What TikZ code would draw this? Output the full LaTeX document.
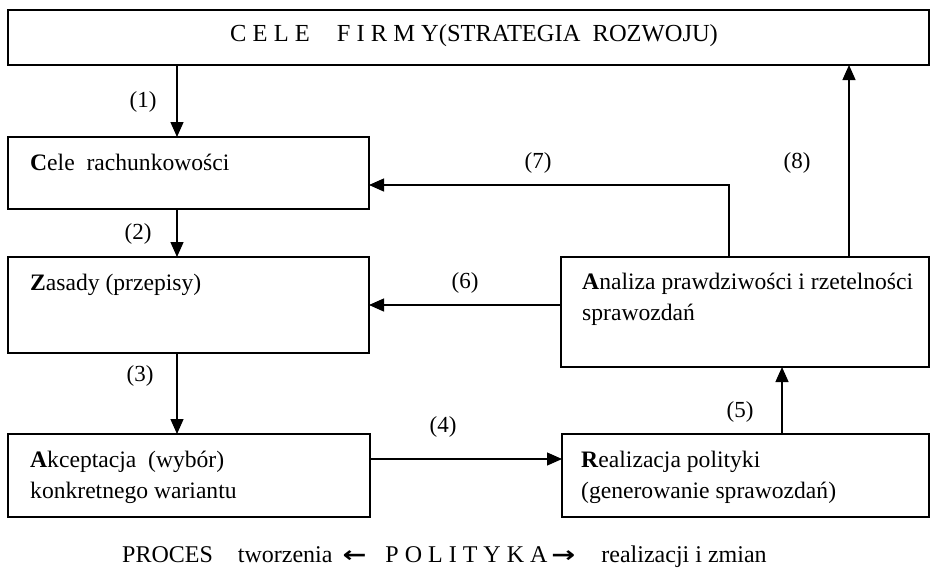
\documentclass[tikz,border=0pt]{standalone}
\usepackage{fontspec}
\setmainfont{Liberation Serif}
\newfontfamily\arrowfont{DejaVu Sans}
\usetikzlibrary{arrows.meta}

\begin{document}
\begin{tikzpicture}[x=1pt,y=-1pt,
    box/.style={draw, line width=1.4pt, anchor=north west, inner sep=0pt, outer sep=0pt},
    txt/.style={anchor=base west, inner sep=0pt, align=left, font=\fontsize{23.6}{31}\selectfont},
    lbl/.style={inner sep=0pt, font=\fontsize{23}{28}\selectfont},
    arr/.style={line width=1.3pt, -{Triangle[length=15pt,width=13pt]}}]
  \useasboundingbox (0,0) rectangle (933,582);

  % Boxes
  \node[box, minimum width=921pt, minimum height=55pt] (top) at (8,10) {};
  \node[box, minimum width=361pt, minimum height=72pt] (cele) at (8,137) {};
  \node[box, minimum width=361pt, minimum height=96pt] (zas) at (8,257) {};
  \node[box, minimum width=362pt, minimum height=83pt] (akc) at (8,434) {};
  \node[box, minimum width=368pt, minimum height=110pt] (anal) at (561,257) {};
  \node[box, minimum width=367pt, minimum height=83pt] (real) at (562,434) {};

  % Texts (two-line texts sit on their last line)
  \node[txt, font=\fontsize{24.5}{30}\selectfont] (topT) at (230,41)
    {C E L E\hspace{27pt}F I R M Y(STRATEGIA\ \ ROZWOJU)};
  \node[txt] (celeT) at ([xshift=22pt,yshift=-33pt]cele.north west) {\textbf{C}ele\ \ rachunkowości};
  \node[txt] (zasT) at ([xshift=22pt,yshift=-33pt]zas.north west) {\textbf{Z}asady (przepisy)};
  \node[txt] (akcT) at ([xshift=22pt,yshift=-64pt]akc.north west) {\textbf{A}kceptacja\ \ (wybór)\\konkretnego wariantu};
  \node[txt] (analT) at ([xshift=21pt,yshift=-63pt]anal.north west) {\textbf{A}naliza prawdziwości i rzetelności\\sprawozdań};
  \node[txt] (realT) at ([xshift=19pt,yshift=-64pt]real.north west) {\textbf{R}ealizacja polityki\\(generowanie sprawozdań)};

  % Arrows
  \coordinate (colA) at (177,0);
  \coordinate (rowB) at (0,459);
  \coordinate (colC) at (782,0);
  \coordinate (colD) at (729,185);
  \coordinate (colE) at (849,0);
  \draw[arr] (top.south -| colA) -- (cele.north -| colA);
  \draw[arr] (cele.south -| colA) -- (zas.north -| colA);
  \draw[arr] (zas.south -| colA) -- (akc.north -| colA);
  \draw[arr] (akc.east |- rowB) -- (real.west |- rowB);
  \draw[arr] (real.north -| colC) -- (anal.south -| colC);
  \draw[arr] (anal.west |- zas.east) -- (zas.east);
  \draw[arr] (anal.north -| colD) |- (cele.east |- colD);
  \draw[arr] (anal.north -| colE) -- (top.south -| colE);

  % Labels
  \node[lbl] (l1) at (143,102) {(1)};
  \node[lbl] (l2) at (138,234) {(2)};
  \node[lbl] (l3) at (140,376) {(3)};
  \node[lbl] (l4) at (443,427) {(4)};
  \node[lbl] (l5) at (740,412) {(5)};
  \node[lbl] (l6) at (465,283) {(6)};
  \node[lbl] (l7) at (538,163) {(7)};
  \node[lbl] (l8) at (797,163) {(8)};

  % Caption
  \node[txt, font=\fontsize{24}{30}\selectfont] (capT) at (122,562)
    {PROCES\hspace{25pt}tworzenia\hspace{10pt}{\arrowfont\bfseries\fontsize{22}{24}\selectfont\scalebox{1.3}[1]{←}}\hspace{19pt}P O L I T Y K A\hspace{4pt}{\arrowfont\bfseries\fontsize{22}{24}\selectfont\scalebox{1.3}[1]{→}}\hspace{26pt}realizacji i zmian};
\end{tikzpicture}
\end{document}
